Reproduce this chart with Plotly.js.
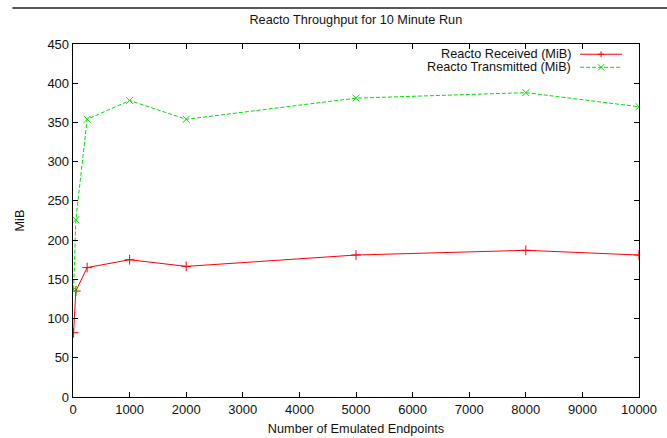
<!DOCTYPE html>
<html>
<head>
<meta charset="utf-8">
<script src="https://cdn.plot.ly/plotly-3.0.1.min.js"></script>
<style>html,body{margin:0;padding:0;background:#fff;}#chart{width:667px;height:438px;}</style>
</head>
<body>
<div id="chart"></div>
<script>
const endpoints = [10, 50, 250, 1000, 2000, 5000, 8000, 10000];
const receivedMiB = [82, 135, 165, 175, 166.5, 181, 187, 181];
const transmittedMiB = [137, 226, 354, 378, 354, 381, 388, 370];
const seriesNames = ['Reacto Received (MiB)', 'Reacto Transmitted (MiB)'];
const xTicks = [0, 1000, 2000, 3000, 4000, 5000, 6000, 7000, 8000, 9000, 10000];
const yTicks = [0, 50, 100, 150, 200, 250, 300, 350, 400, 450];

const FONT = 'Liberation Sans, Arial, Helvetica, sans-serif';
const TXT = '#111';
const traces = [
  {x: endpoints, y: receivedMiB, name: seriesNames[0], type: 'scatter', mode: 'lines+markers',
   line: {color: '#ff0000', width: 1}, marker: {symbol: 'cross-thin', size: 7, line: {color: '#ff0000', width: 1}}},
  {x: endpoints, y: transmittedMiB, name: seriesNames[1], type: 'scatter', mode: 'lines+markers',
   line: {color: '#00e000', width: 1, dash: '4px,2px'}, marker: {symbol: 'x-thin', size: 7, line: {color: '#00e000', width: 1}}}
];

// legend in gnuplot style: text then sample
const lx1 = 0.8834, ls0 = 0.896, ls1 = 0.970, lm = 0.933;
const ly = [0.971, 0.934];
const dx = 3 / 566.3, dy = 3 / 353.6;
const shapes = [
  {type: 'line', xref: 'paper', yref: 'paper', x0: -0.107, x1: 1.1, y0: 1.102, y1: 1.102, line: {color: '#222', width: 1.5}},
  {type: 'line', xref: 'paper', yref: 'paper', x0: ls0, x1: ls1, y0: ly[0], y1: ly[0], line: {color: '#ff0000', width: 1}},
  {type: 'path', xref: 'paper', yref: 'paper', path: `M ${lm-dx},${ly[0]} L ${lm+dx},${ly[0]} M ${lm},${ly[0]-dy} L ${lm},${ly[0]+dy}`, line: {color: '#ff0000', width: 1}},
  {type: 'line', xref: 'paper', yref: 'paper', x0: ls0, x1: ls1, y0: ly[1], y1: ly[1], line: {color: '#00e000', width: 1, dash: '4px,2px'}},
  {type: 'path', xref: 'paper', yref: 'paper', path: `M ${lm-dx},${ly[1]-dy} L ${lm+dx},${ly[1]+dy} M ${lm-dx},${ly[1]+dy} L ${lm+dx},${ly[1]-dy}`, line: {color: '#00e000', width: 1}}
];
const annotations = seriesNames.map((n, i) => ({
  xref: 'paper', yref: 'paper', x: lx1, y: ly[i], xanchor: 'right', yanchor: 'middle',
  text: n, showarrow: false, font: {family: FONT, size: 12.7, color: TXT}
}));

const layout = {
  width: 667, height: 438,
  margin: {l: 73, r: 28, t: 44, b: 41, pad: 0},
  paper_bgcolor: '#fff', plot_bgcolor: '#fff',
  font: {family: FONT, size: 12.7, color: TXT},
  showlegend: false,
  title: {text: 'Reacto Throughput for 10 Minute Run', x: 0.5335, xanchor: 'center', y: 0.955, yanchor: 'middle', font: {family: FONT, size: 12.7, color: TXT}},
  xaxis: {
    range: [0, 10000], tickvals: xTicks, ticktext: xTicks.map(String),
    ticks: 'inside', ticklen: 5, tickwidth: 1, tickcolor: '#000', mirror: 'allticks',
    showline: true, linecolor: '#000', linewidth: 1.3, showgrid: false, zeroline: false,
    title: {text: 'Number of Emulated Endpoints', standoff: 8, font: {family: FONT, size: 12.7, color: TXT}},
    tickfont: {family: FONT, size: 13, color: TXT}
  },
  yaxis: {
    range: [0, 450], tickvals: yTicks, ticktext: yTicks.map(String),
    ticks: 'inside', ticklen: 5, tickwidth: 1, tickcolor: '#000', mirror: 'allticks',
    showline: true, linecolor: '#000', linewidth: 1.3, showgrid: false, zeroline: false,
    title: {text: 'MiB', standoff: 20, font: {family: FONT, size: 12.7, color: TXT}},
    tickfont: {family: FONT, size: 13, color: TXT}
  },
  shapes: shapes,
  annotations: annotations
};
Plotly.newPlot('chart', traces, layout, {staticPlot: true, displayModeBar: false});
</script>
</body>
</html>
